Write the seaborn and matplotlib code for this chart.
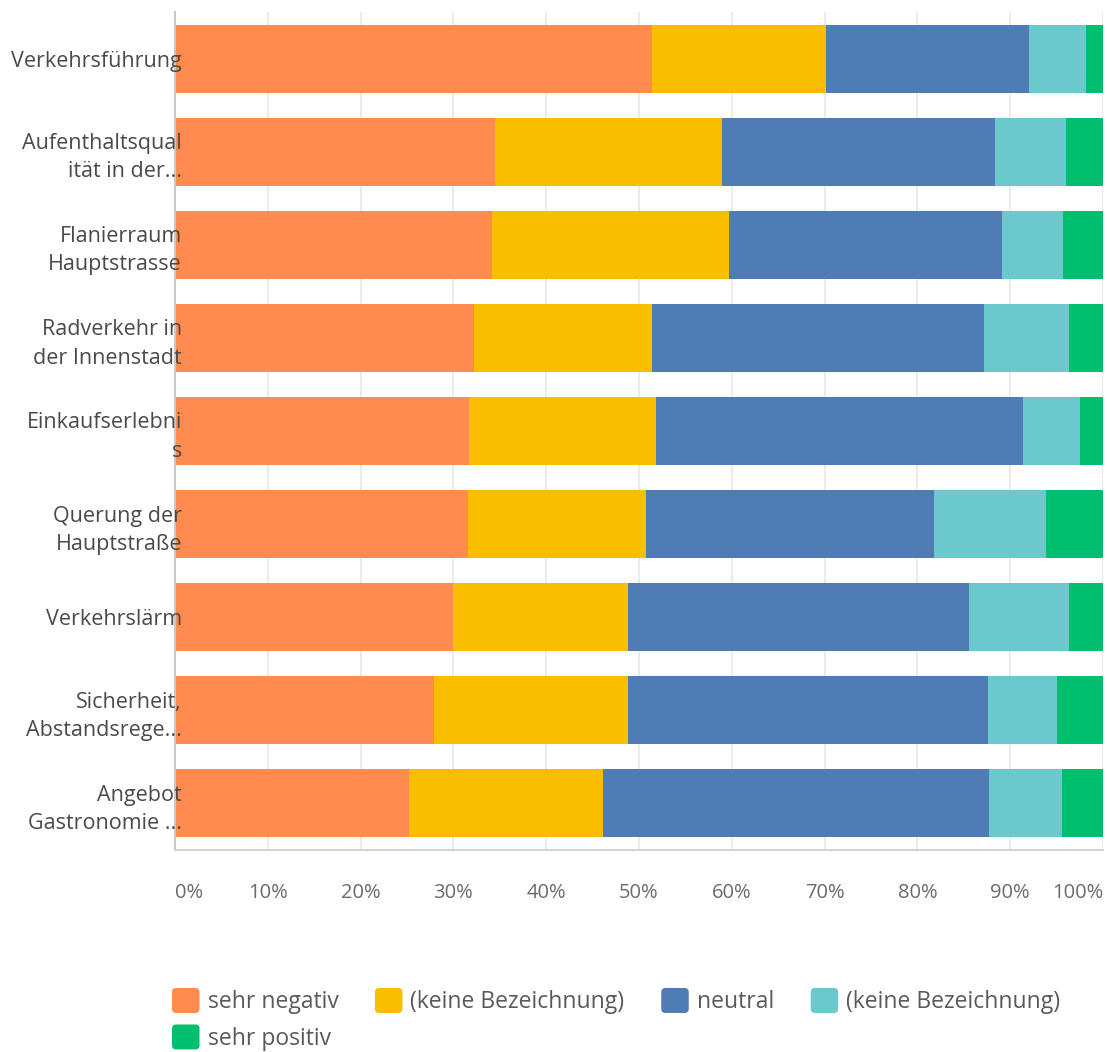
import numpy as np
import pandas as pd
import matplotlib
matplotlib.use("Agg")
import matplotlib.pyplot as plt
from matplotlib.patches import Patch, FancyBboxPatch
from matplotlib.legend_handler import HandlerPatch
import seaborn as sns

categories = [
    "Verkehrsführung",
    "Aufenthaltsqual\nität in der...",
    "Flanierraum\nHauptstrasse",
    "Radverkehr in\nder Innenstadt",
    "Einkaufserlebni\ns",
    "Querung der\nHauptstraße",
    "Verkehrslärm",
    "Sicherheit,\nAbstandsrege...",
    "Angebot\nGastronomie ...",
]
series_names = ["sehr negativ", "(keine Bezeichnung)", "neutral",
                "(keine Bezeichnung) ", "sehr positiv"]
sehr_negativ = [51.4, 34.5, 34.2, 32.2, 31.7, 31.6, 30.0, 27.9, 25.2]
keine_bez_1 = [18.8, 24.4, 25.5, 19.2, 20.1, 19.2, 18.8, 20.9, 20.9]
neutral = [21.8, 29.5, 29.4, 35.8, 39.6, 31.0, 36.8, 38.8, 41.6]
keine_bez_2 = [6.2, 7.6, 6.6, 9.1, 6.1, 12.1, 10.7, 7.4, 7.9]
sehr_positiv = [1.8, 4.0, 4.3, 3.7, 2.5, 6.1, 3.7, 5.0, 4.4]
tick_values = list(range(0, 101, 10))
tick_labels = [f"{v}%" for v in tick_values]

colors = ["#FF8B4F", "#F9BE00", "#507CB6", "#6BC8CD", "#00BF6F"]

sns.set_theme(style="white")
plt.rcParams["font.family"] = ["Open Sans", "DejaVu Sans"]

df = pd.DataFrame({
    "category": categories,
    "s0": sehr_negativ,
    "s1": keine_bez_1,
    "s2": neutral,
    "s3": keine_bez_2,
    "s4": sehr_positiv,
})
cols = ["s0", "s1", "s2", "s3", "s4"]
cum = df[cols].cumsum(axis=1)
for c in cols:
    df["end_" + c] = cum[c]

fig = plt.figure(figsize=(11.07, 10.52), dpi=100)
ax = fig.add_axes([175 / 1107, 1 - 850 / 1052, 928 / 1107, 838 / 1052])

# Stack by drawing cumulative totals from the right-most segment inward;
# bars sit below the axis artists so the category labels stay on top
for c, col in reversed(list(zip(cols, colors))):
    sns.barplot(data=df, x="end_" + c, y="category", orient="h", color=col,
                saturation=1, width=0.73, errorbar=None, ax=ax, zorder=2,
                linewidth=0)

ax.set_axisbelow(False)
ax.set_xlim(0, 100)
ax.set_ylim(8.5, -0.5)
ax.set_xlabel("")
ax.set_ylabel("")
ax.set_xticks(tick_values)
ax.set_xticklabels(tick_labels)
xl = ax.get_xticklabels()
xl[0].set_ha("left")
xl[-1].set_ha("right")
ax.tick_params(axis="x", length=0, pad=24, labelsize=14.5, labelcolor="#6b6b6b")
ax.tick_params(axis="y", length=0, pad=-5, labelsize=15.5, labelcolor="#4a4a4a")
for lab in ax.get_yticklabels():
    lab.set_linespacing(1.45)

# light vertical gridlines kept behind the bars
ax.grid(False)
ax.vlines(tick_values, -0.5, 8.5, colors="#e8e8ec", linewidth=1.2, zorder=0.5)
for s in ["top", "right"]:
    ax.spines[s].set_visible(False)
ax.spines["left"].set_color("#c8c8c8")
ax.spines["bottom"].set_color("#d4d4d4")
ax.spines["left"].set_linewidth(1.5)
ax.spines["bottom"].set_linewidth(1.5)
ax.set_ylim(8.5, -0.5)


class RoundedSquare(HandlerPatch):
    def create_artists(self, legend, orig_handle, xdescent, ydescent,
                       width, height, fontsize, trans):
        p = FancyBboxPatch((-xdescent, -ydescent), width, height,
                           boxstyle="round,pad=0,rounding_size=3",
                           facecolor=orig_handle.get_facecolor(),
                           edgecolor="none", transform=trans)
        return [p]


handles = [Patch(facecolor=c, label=n.strip()) for c, n in zip(colors, series_names)]
order = [0, 4, 1, 2, 3]
leg = fig.legend([handles[i] for i in order], [handles[i].get_label() for i in order],
                 loc="upper left", bbox_to_anchor=(172 / 1107, 1 - 988 / 1052),
                 borderaxespad=0, ncol=4, frameon=False, fontsize=16.5, borderpad=0,
                 handlelength=1.2, handleheight=1.3, handletextpad=0.35,
                 columnspacing=1.6, labelspacing=0.45,
                 handler_map={Patch: RoundedSquare()})
for t in leg.get_texts():
    t.set_color("#5a5a5a")

fig.savefig("out.png", dpi=100, facecolor="white")
